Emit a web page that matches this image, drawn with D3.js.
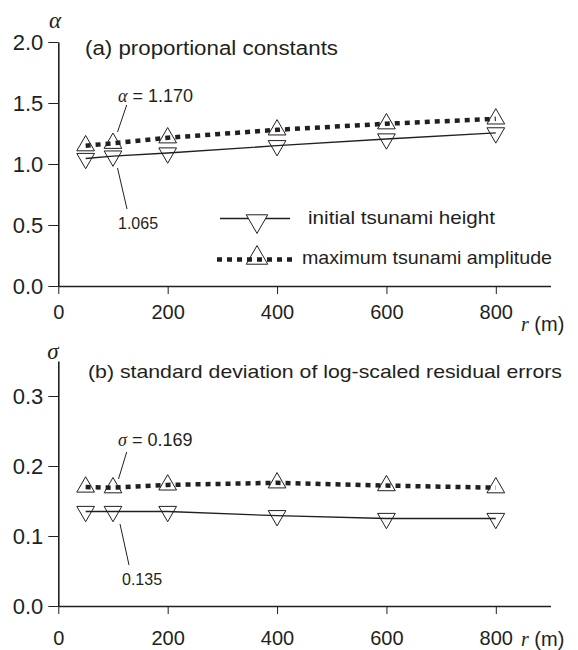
<!DOCTYPE html>
<html>
<head>
<meta charset="utf-8">
<script src="https://cdn.jsdelivr.net/npm/d3@7"></script>
<style>
  body { margin: 0; background: #fff; }
  svg text { font-family: "Liberation Sans", Arial, sans-serif; fill: #231f20; }
  .greek { font-family: "Liberation Serif", serif; font-style: italic; }
</style>
</head>
<body>
<div class="d3-container"></div>
<script>
// data
const radius = [50, 100, 200, 400, 600, 800];
const alphaInitial = [1.045, 1.065, 1.09, 1.15, 1.205, 1.255];
const alphaMaximum = [1.15, 1.17, 1.215, 1.28, 1.33, 1.37];
const sigmaInitial = [0.135, 0.135, 0.135, 0.129, 0.125, 0.125];
const sigmaMaximum = [0.170, 0.169, 0.173, 0.176, 0.172, 0.169];
const xTicks = [0, 200, 400, 600, 800];
const alphaTicks = [0, 0.5, 1.0, 1.5, 2.0];
const sigmaTicks = [0, 0.1, 0.2, 0.3];
const legendLabels = ["initial tsunami height", "maximum tsunami amplitude"];

const width = 578;
const height = 650;
const ink = "#231f20";

const svg = d3.select(".d3-container")
  .append("svg")
  .attr("width", width)
  .attr("height", height)
  .attr("viewBox", [0, 0, width, height]);

// shared x scale, the axis line runs a bit past 800
const x = d3.scaleLinear().domain([0, 900]).range([58.3, 550.5]);

const yA = d3.scaleLinear().domain([0, 2]).range([286, 42]);
const yS = d3.scaleLinear().domain([0, 0.35]).range([606, 361]);

const triUp = d3.symbol().type(d3.symbolTriangle).size(136);
const triUpBig = d3.symbol().type(d3.symbolTriangle).size(200);

function styleAxis(g) {
  g.select(".domain").attr("stroke", ink).attr("stroke-width", 1.6);
  g.selectAll(".tick line").attr("stroke", ink).attr("stroke-width", 1);
  g.selectAll(".tick text").attr("fill", ink);
}

// draws one panel: axes, two series, markers
function panel(y, ticks, fmtY, initial, maximum, xPad) {
  svg.append("g")
    .attr("transform", `translate(0,${y(0)})`)
    .call(d3.axisBottom(x).tickValues(xTicks).tickSize(8).tickPadding(xPad).tickSizeOuter(0))
    .call(styleAxis)
    .call(g => g.selectAll(".tick text").attr("font-size", 20).attr("font-family", "Liberation Sans"));

  svg.append("g")
    .attr("transform", `translate(${x(0)},0)`)
    .call(d3.axisLeft(y).tickValues(ticks).tickFormat(fmtY).tickSize(10).tickPadding(5).tickSizeOuter(0))
    .call(styleAxis)
    .call(g => g.selectAll(".tick text").attr("font-size", 22).attr("font-family", "Liberation Sans"));

  const line = d3.line().x((d, i) => x(radius[i])).y(d => y(d));

  // hollow markers first, lines drawn over them
  svg.append("g")
    .selectAll("path")
    .data(initial)
    .join("path")
    .attr("d", triUp)
    .attr("transform", (d, i) => `translate(${x(radius[i])},${y(d)}) rotate(180)`)
    .attr("fill", "none")
    .attr("stroke", ink)
    .attr("stroke-width", 1);

  svg.append("g")
    .selectAll("path")
    .data(maximum)
    .join("path")
    .attr("d", triUp)
    .attr("transform", (d, i) => `translate(${x(radius[i])},${y(d)})`)
    .attr("fill", "none")
    .attr("stroke", ink)
    .attr("stroke-width", 1);

  svg.append("path")
    .datum(initial)
    .attr("d", line)
    .attr("fill", "none")
    .attr("stroke", ink)
    .attr("stroke-width", 1.3);

  svg.append("path")
    .datum(maximum)
    .attr("d", line)
    .attr("fill", "none")
    .attr("stroke", ink)
    .attr("stroke-width", 4.5)
    .attr("stroke-dasharray", "5 5");
}

panel(yA, alphaTicks, d3.format(".1f"), alphaInitial, alphaMaximum, 11);
panel(yS, sigmaTicks, d3.format(".1f"), sigmaInitial, sigmaMaximum, 17);

// axis symbols
svg.append("text").attr("class", "greek").attr("x", 55).attr("y", 28)
  .attr("text-anchor", "middle").attr("font-size", 23).text("α");
svg.append("text").attr("class", "greek").attr("x", 53).attr("y", 359)
  .attr("text-anchor", "middle").attr("font-size", 23).text("σ");

// x axis unit labels
[331, 646].forEach(yy => {
  const t = svg.append("text").attr("x", 521).attr("y", yy).attr("font-size", 20);
  t.append("tspan").attr("font-family", "Liberation Serif")
    .attr("font-style", "italic").text("r");
  t.append("tspan").text(" (m)");
});

// panel titles
svg.append("text").attr("x", 85).attr("y", 55).attr("font-size", 20)
  .attr("textLength", 253).attr("lengthAdjust", "spacingAndGlyphs")
  .text("(a) proportional constants");
svg.append("text").attr("x", 88).attr("y", 378).attr("font-size", 19)
  .attr("textLength", 474).attr("lengthAdjust", "spacingAndGlyphs")
  .text("(b) standard deviation of log-scaled residual errors");

// annotations with leader lines
function note(parts, tx, ty, size, x1, y1, x2, y2) {
  const t = svg.append("text").attr("x", tx).attr("y", ty).attr("font-size", size);
  parts.forEach(p => {
    const s = t.append("tspan").text(p.text);
    if (p.greek) s.attr("font-family", "Liberation Serif").attr("font-style", "italic");
  });
  svg.append("line").attr("x1", x1).attr("y1", y1).attr("x2", x2).attr("y2", y2)
    .attr("stroke", ink).attr("stroke-width", 1);
}

note([{text: "α", greek: true}, {text: " = " + alphaMaximum[1].toFixed(3)}], 118, 102, 18, 126.7, 105, 117.5, 132);
note([{text: alphaInitial[1].toFixed(3)}], 118, 229, 16, 117.5, 168, 127, 209);
note([{text: "σ", greek: true}, {text: " = " + sigmaMaximum[1].toFixed(3)}], 118, 446, 18, 126.7, 452, 118.5, 479);
note([{text: sigmaInitial[1].toFixed(3)}], 122, 585, 16, 120, 524, 129, 565);

// legend
const legend = svg.append("g");
legend.append("line").attr("x1", 220).attr("x2", 290).attr("y1", 218.5).attr("y2", 218.5)
  .attr("stroke", ink).attr("stroke-width", 1.5);
legend.append("path").attr("d", triUpBig)
  .attr("transform", "translate(257,221) rotate(180)")
  .attr("fill", "#fff").attr("stroke", ink).attr("stroke-width", 1);
legend.append("line").attr("x1", 217).attr("x2", 292).attr("y1", 259.5).attr("y2", 259.5)
  .attr("stroke", ink).attr("stroke-width", 4.5).attr("stroke-dasharray", "5 5");
legend.append("path").attr("d", triUpBig)
  .attr("transform", "translate(257,258)")
  .attr("fill", "none").attr("stroke", ink).attr("stroke-width", 1);
legend.append("text").attr("x", 308).attr("y", 224).attr("font-size", 19)
  .attr("textLength", 187).attr("lengthAdjust", "spacingAndGlyphs").text(legendLabels[0]);
legend.append("text").attr("x", 302).attr("y", 264).attr("font-size", 19)
  .attr("textLength", 250).attr("lengthAdjust", "spacingAndGlyphs").text(legendLabels[1]);
</script>
</body>
</html>
